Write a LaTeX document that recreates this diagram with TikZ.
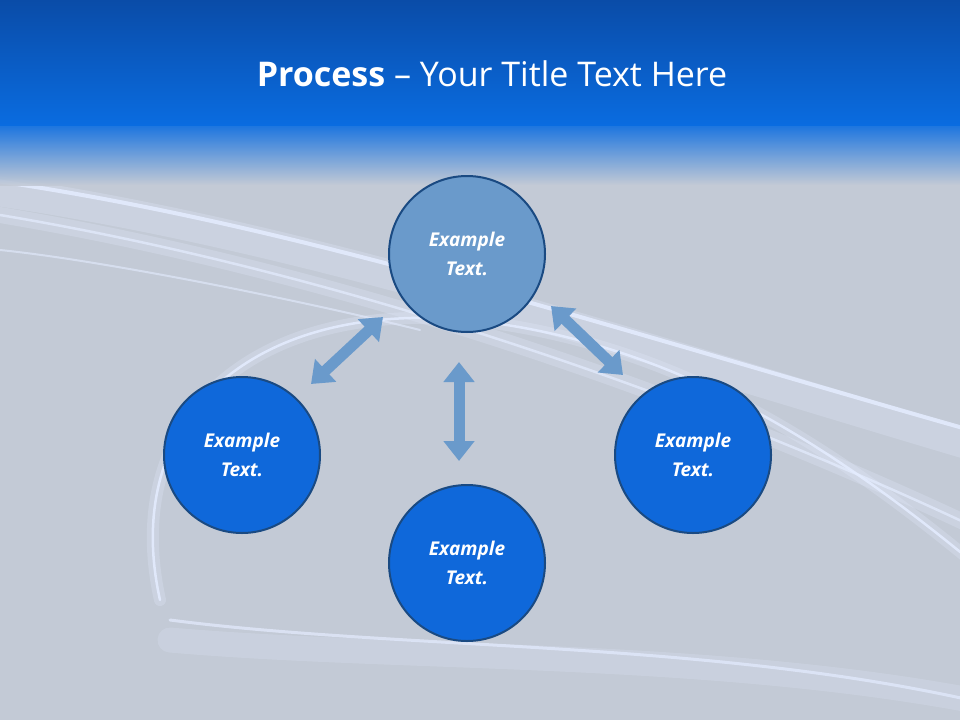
\documentclass[tikz,border=0pt]{standalone}
\usepackage{fontspec}
\setmainfont{Open Sans}
\usetikzlibrary{arrows.meta}
\definecolor{bg}{HTML}{C3CAD6}
\definecolor{topdark}{HTML}{0A4CA8}
\definecolor{topmid}{HTML}{0A6CE0}
\definecolor{pale}{HTML}{6A9ACB}
\definecolor{circ}{HTML}{0F68DA}
\definecolor{rim}{HTML}{1A4A82}
\definecolor{glow}{HTML}{E4ECFF}
\tikzset{
  bubble/.style={circle,minimum size=156pt,line width=2pt,draw=rim,fill=circ,text=white,
    font=\fontsize{19}{29}\selectfont\bfseries\itshape,align=center,inner sep=0pt},
  link/.style={pale,line width=11pt,{Triangle[width=30pt,length=20pt]}-{Triangle[width=30pt,length=20pt]}},
  swoosh/.style={glow,line cap=round}
}
\begin{document}
\begin{tikzpicture}[x=1pt,y=-1pt]
\useasboundingbox (0,0) rectangle (960,720);
\fill[bg] (0,0) rectangle (960,720);
% swooshes
\draw[swoosh,line width=30pt,opacity=0.25] (-10,190) .. controls (300,235) and (600,335) .. (970,445);
\draw[swoosh,line width=4pt,opacity=0.85] (-10,180) .. controls (300,225) and (600,325) .. (970,430);
\draw[swoosh,line width=16pt,opacity=0.25] (0,215) .. controls (300,265) and (650,375) .. (970,525);
\draw[swoosh,line width=2.5pt,opacity=0.7] (0,215) .. controls (300,265) and (650,375) .. (970,525);
\draw[swoosh,line width=12pt,opacity=0.25] (160,600) .. controls (120,420) and (250,300) .. (470,320) .. controls (650,340) and (800,420) .. (970,560);
\draw[swoosh,line width=2.5pt,opacity=0.85] (160,600) .. controls (120,420) and (250,300) .. (470,320) .. controls (650,340) and (800,420) .. (970,560);
\draw[swoosh,line width=25pt,opacity=0.2] (170,640) .. controls (400,660) and (700,650) .. (970,700);
\draw[swoosh,line width=3pt,opacity=0.7] (170,620) .. controls (400,650) and (700,640) .. (970,700);
\draw[swoosh,line width=2pt,opacity=0.6] (0,250) .. controls (100,260) and (300,300) .. (420,330);
% banner
\shade[top color=topdark,bottom color=topmid] (0,0) rectangle (960,125);
\shade[top color=topmid,bottom color=bg,opacity=0.9] (0,125) rectangle (960,185);
\node (title) at (492,74) {\fontsize{34}{40}\selectfont\color{white}\textbf{Process} – Your Title Text Here};
% circles
\node[bubble,fill=pale] (top) at (467,254) {Example\\Text.};
\node[bubble] (left) at (242,455) {Example\\Text.};
\node[bubble] (right) at (693,455) {Example\\Text.};
\node[bubble] (bot) at (467,563) {Example\\Text.};
% arrows
\coordinate (la) at (311,384); \coordinate (lb) at (383,317);
\coordinate (ra) at (551,306); \coordinate (rb) at (623,375);
\coordinate (va) at (459,362); \coordinate (vb) at (459,461);
\draw[link] (la) -- (lb);
\draw[link] (ra) -- (rb);
\draw[link] (va) -- (vb);
\end{tikzpicture}
\end{document}
